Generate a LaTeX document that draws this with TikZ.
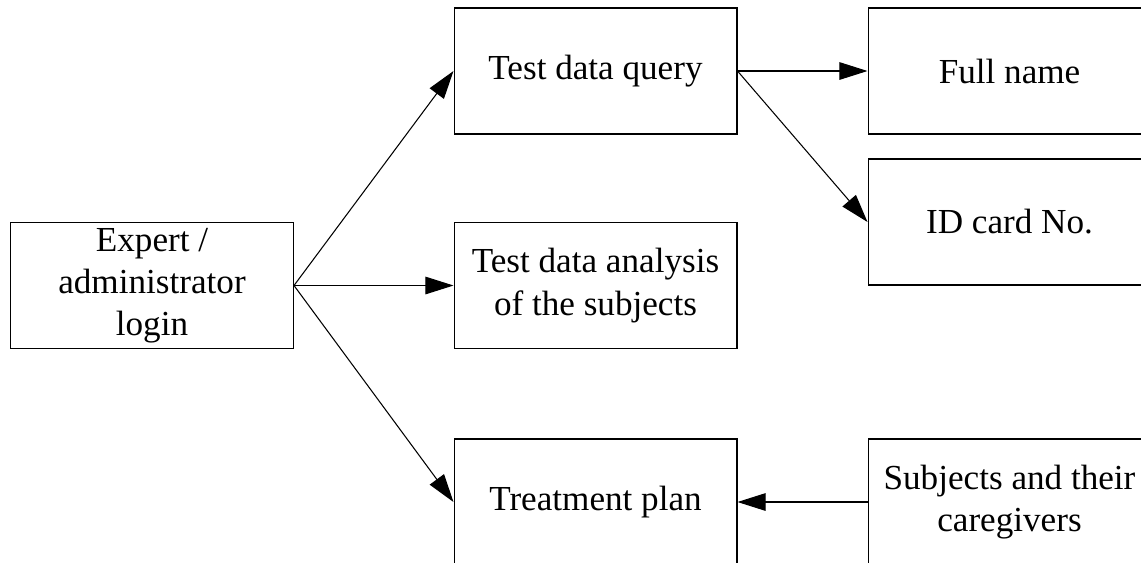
\documentclass[tikz,border=0pt]{standalone}
\usepackage{fontspec}
\setmainfont{Liberation Serif}
\usetikzlibrary{arrows.meta}

\begin{document}
\begin{tikzpicture}[x=0.02cm,y=-0.02cm,line width=0.6pt,
    box/.style={draw,minimum width=5.66cm,minimum height=2.52cm,inner sep=0pt,
      align=center,font=\fontsize{20}{24}\selectfont},
    link/.style={-{Triangle[length=16pt,width=10pt]}}
    ]
  \useasboundingbox (0,0) rectangle (1141,562);

  \node[box] (expert)   at (152,285.5)   {Expert /\\administrator\\login};
  \node[box] (query)    at (595.5,71)    {Test data query};
  \node[box] (analysis) at (595.5,285.5) {Test data analysis\\of the subjects};
  \node[box] (plan)     at (595.5,502)   {Treatment plan};
  \node[box] (fullname) at (1009.5,71)   {Full name};
  \node[box] (idcard)   at (1009.5,222)  {ID card No.};
  \node[box] (subjects) at (1009.5,502)  {Subjects and their\\caregivers};

  \draw[link] (expert.east) -- (query.west);
  \draw[link] (expert.east) -- (analysis.west);
  \draw[link] (expert.east) -- (plan.west);
  \draw[link] (query.east)  -- (fullname.west);
  \draw[link] (query.east)  -- (idcard.west);
  \draw[link] (subjects.west) -- (plan.east);
\end{tikzpicture}
\end{document}
